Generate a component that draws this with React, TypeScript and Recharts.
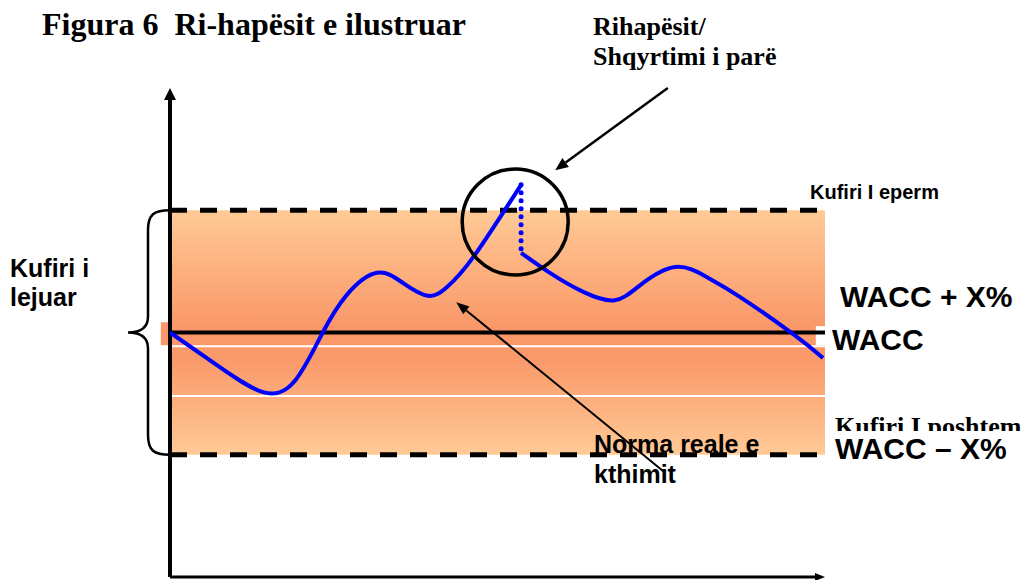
import React from 'react';
import {
  ComposedChart,
  Line,
  XAxis,
  YAxis,
  ReferenceArea,
  ReferenceLine,
  ReferenceDot,
} from 'recharts';

const timeBefore = [0, 7.6, 14.2, 19.0, 23.2, 27.0, 31.6, 35.6, 39.4, 42.3, 46.3, 53.6];
const returnBefore = [50, 42.9, 37.8, 40.0, 49.7, 57.7, 62.2, 60.1, 57.5, 59.3, 65.4, 80.2];
const timeAfter = [53.6, 58.0, 63.1, 67.9, 71.8, 77.1, 82.0, 87.0, 95.1, 99.7];
const returnAfter = [66.3, 62.2, 58.3, 56.6, 59.7, 63.4, 61.3, 57.3, 49.7, 44.8];

const WACC = 50;
const X_PCT = 25;
const innerLines = [47.2, 37.0];

const reopenTime = 53.6;
const circleCenter = { t: 52.7, v: 72.6 };

// annotation arrows: [from, to] in chart units
const reopenArrow = [{ x: 76.0, y: 100 }, { x: 58.8, y: 83.2 }];
const rateArrow = [{ x: 75.6, y: 21.3 }, { x: 43.7, y: 56.2 }];

const before = timeBefore.map((t, i) => ({ t, v: returnBefore[i] }));
const after = timeAfter.map((t, i) => ({ t, v: returnAfter[i] }));
const drop = [
  { t: reopenTime, v: returnBefore[returnBefore.length - 1] },
  { t: reopenTime, v: returnAfter[0] },
];

const SANS = '"Liberation Sans", Arial, sans-serif';
const SERIF = '"Liberation Serif", "Times New Roman", serif';

const arrow = (width: number, head: number, headW: number) => (p: any) => {
  const { x1, y1, x2, y2 } = p;
  const a = Math.atan2(y2 - y1, x2 - x1);
  const bx = x2 - head * Math.cos(a);
  const by = y2 - head * Math.sin(a);
  const nx = (-Math.sin(a) * headW) / 2;
  const ny = (Math.cos(a) * headW) / 2;
  return (
    <g>
      <line x1={x1} y1={y1} x2={bx} y2={by} stroke="#000" strokeWidth={width} />
      <polygon points={`${x2},${y2} ${bx + nx},${by + ny} ${bx - nx},${by - ny}`} fill="#000" />
    </g>
  );
};

const brace = (p: any) => {
  const { x1: x, y1, y2 } = p;
  const ym = (y1 + y2) / 2;
  const d = `M${x},${y1} C${x - 16},${y1} ${x - 22},${y1 + 4} ${x - 22},${y1 + 20}
    L${x - 22},${ym - 16} C${x - 22},${ym - 4} ${x - 30},${ym} ${x - 42},${ym}
    C${x - 30},${ym} ${x - 22},${ym + 4} ${x - 22},${ym + 16}
    L${x - 22},${y2 - 20} C${x - 22},${y2 - 4} ${x - 16},${y2} ${x},${y2}`;
  return <path d={d} fill="none" stroke="#000" strokeWidth={2.5} />;
};

export default function App() {
  return (
    <div style={{ position: 'absolute', left: 0, top: 0, width: 1025, height: 580, background: '#fff' }}>
      <ComposedChart width={1025} height={580} margin={{ top: 88, right: 200, bottom: 3, left: 170 }}>
        <defs>
          <linearGradient id="bandGrad" x1="0" y1="0" x2="0" y2="1">
            <stop offset="0%" stopColor="#FFCA96" />
            <stop offset="48%" stopColor="#FA9768" />
            <stop offset="62%" stopColor="#FA9A6B" />
            <stop offset="100%" stopColor="#FFCA96" />
          </linearGradient>
        </defs>
        <XAxis type="number" dataKey="t" domain={[0, 100]} hide allowDataOverflow />
        <YAxis type="number" dataKey="v" domain={[0, 100]} hide allowDataOverflow />

        <ReferenceArea x1={0} x2={100} y1={WACC - X_PCT} y2={WACC + X_PCT} fill="url(#bandGrad)" fillOpacity={1} stroke="none" />
        <ReferenceArea x1={-1.4} x2={0} y1={47.4} y2={52.1} fill="#FA9A6A" fillOpacity={1} stroke="none" ifOverflow="visible" />
        <ReferenceArea x1={98.6} x2={100} y1={47.4} y2={51.3} fill="#fff" fillOpacity={1} stroke="none" />
        {innerLines.map((y) => (
          <ReferenceLine key={y} y={y} stroke="#fff" strokeWidth={2} />
        ))}
        <ReferenceLine y={WACC} stroke="#000" strokeWidth={4} />
        <ReferenceLine y={WACC + X_PCT} stroke="#000" strokeWidth={5} strokeDasharray="17 13" />
        <ReferenceLine y={WACC - X_PCT} stroke="#000" strokeWidth={5} strokeDasharray="17 13" />

        <ReferenceLine segment={[{ x: 0, y: 0 }, { x: 0, y: 100 }]} shape={arrow(4, 12, 12)} ifOverflow="visible" />
        <ReferenceLine segment={[{ x: 0, y: 0 }, { x: 100, y: 0 }]} shape={arrow(3, 10, 8)} ifOverflow="visible" />
        <ReferenceLine segment={[{ x: 0, y: WACC + X_PCT }, { x: 0, y: WACC - X_PCT }]} shape={brace} ifOverflow="visible" />

        <Line data={before} dataKey="v" type="natural" stroke="#0000FF" strokeWidth={4} dot={false} isAnimationActive={false} />
        <Line data={after} dataKey="v" type="natural" stroke="#0000FF" strokeWidth={4} dot={false} isAnimationActive={false} />
        <Line data={drop} dataKey="v" type="linear" stroke="#0000FF" strokeWidth={5} strokeDasharray="0 8" strokeLinecap="round" dot={false} isAnimationActive={false} />

        <ReferenceDot x={circleCenter.t} y={circleCenter.v} r={53} fill="none" stroke="#000" strokeWidth={3.5} />
        <ReferenceLine segment={reopenArrow} shape={arrow(2.5, 13, 11)} ifOverflow="visible" />
        <ReferenceLine segment={rateArrow} shape={arrow(2, 13, 10)} ifOverflow="visible" />
      </ComposedChart>

      <svg width={1025} height={580} style={{ position: 'absolute', left: 0, top: 0, pointerEvents: 'none' }}>
        <defs>
          <clipPath id="clipLower">
            <rect x={0} y={0} width={1025} height={431} />
          </clipPath>
        </defs>
        <g fontWeight="bold" fill="#000">
          <text x={42} y={35} fontFamily={SERIF} fontSize={32} style={{ whiteSpace: 'pre' }}>Figura 6  Ri-hapësit e ilustruar</text>
          <text x={593} y={35} fontFamily={SERIF} fontSize={26}>Rihapësit/</text>
          <text x={593} y={65} fontFamily={SERIF} fontSize={26}>Shqyrtimi i parë</text>
          <text x={810} y={199} fontFamily={SANS} fontSize={20}>Kufiri I eperm</text>
          <text x={840} y={307} fontFamily={SANS} fontSize={30}>WACC + X%</text>
          <text x={832} y={350} fontFamily={SANS} fontSize={30}>WACC</text>
          <text x={835} y={435} fontFamily={SERIF} fontSize={26} clipPath="url(#clipLower)">Kufiri I poshtem</text>
          <text x={835} y={459} fontFamily={SANS} fontSize={30}>WACC – X%</text>
          <text x={10} y={277} fontFamily={SANS} fontSize={25}>Kufiri i</text>
          <text x={10} y={306} fontFamily={SANS} fontSize={25}>lejuar</text>
          <text x={594} y={453} fontFamily={SANS} fontSize={25}>Norma reale e</text>
          <text x={594} y={483} fontFamily={SANS} fontSize={25}>kthimit</text>
        </g>
      </svg>
    </div>
  );
}
